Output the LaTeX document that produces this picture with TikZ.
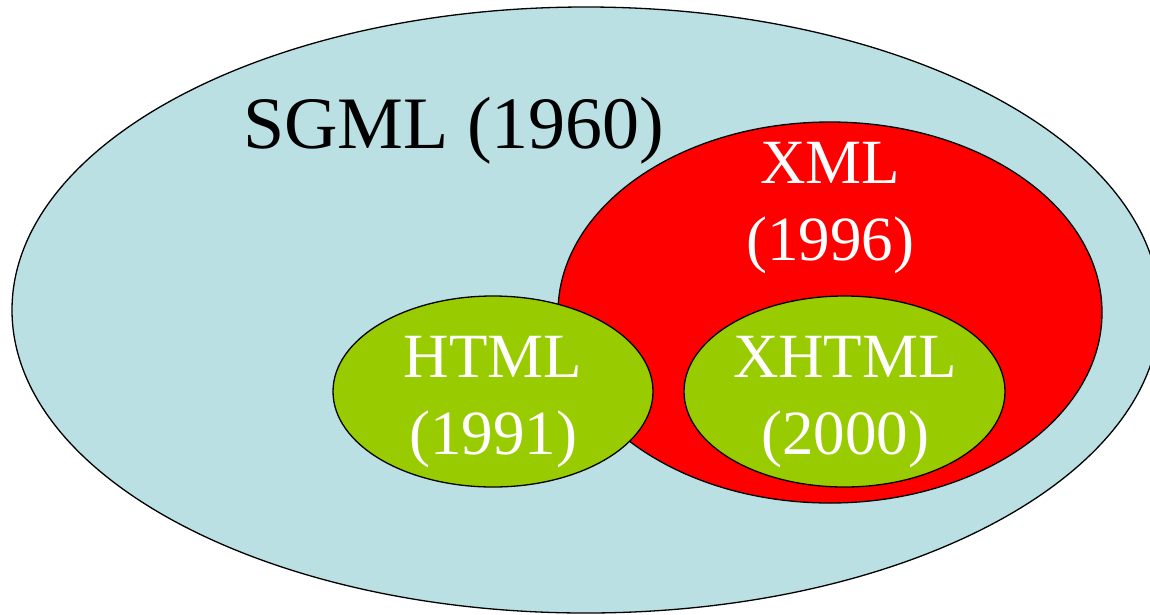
\documentclass[tikz,border=0pt]{standalone}
\usepackage{fontspec}
\setmainfont{Liberation Serif}
\definecolor{sgmlblue}{RGB}{186,224,227}
\definecolor{xmlred}{RGB}{255,0,0}
\definecolor{htmlgreen}{RGB}{153,204,0}
\tikzset{
  setshape/.style={draw=black, line width=1.3pt},
  biglabel/.style={inner sep=0pt, text=black, font=\fontsize{74pt}{88pt}\selectfont},
  innerlabel/.style={inner sep=0pt, text=white, anchor=base, font=\fontsize{63pt}{76pt}\selectfont}
}
\begin{document}
\begin{tikzpicture}[x=1pt,y=-1pt]
\useasboundingbox (0,0) rectangle (1150,614);
\clip (0,0) rectangle (1150,614);
% SGML
\filldraw[setshape, fill=sgmlblue] (586,310) ellipse [x radius=574pt, y radius=303pt];
% XML
\filldraw[setshape, fill=xmlred] (830,312.5) ellipse [x radius=272pt, y radius=190.5pt];
% HTML
\filldraw[setshape, fill=htmlgreen] (493,391.5) ellipse [x radius=160pt, y radius=95.5pt];
% XHTML
\filldraw[setshape, fill=htmlgreen] (844.5,391.5) ellipse [x radius=160.5pt, y radius=95.5pt];
% labels
\node[biglabel, anchor=base west] (sgmltxt) at (243,148) {SGML (1960)};
\node[innerlabel] (xmltxt) at (830,183) {XML};
\node[innerlabel] (xmlyear) at (830,260) {(1996)};
\node[innerlabel] (htmltxt) at (493,377) {HTML};
\node[innerlabel] (htmlyear) at (493,454) {(1991)};
\node[innerlabel] (xhtmltxt) at (845,377) {XHTML};
\node[innerlabel] (xhtmlyear) at (845,454) {(2000)};
\end{tikzpicture}
\end{document}
